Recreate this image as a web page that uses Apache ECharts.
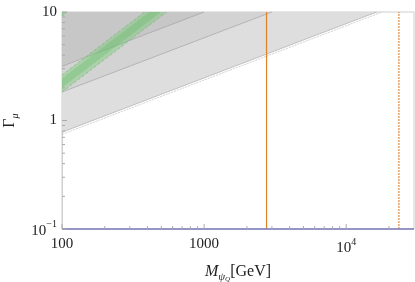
<!DOCTYPE html>
<html><head><meta charset="utf-8">
<script src="https://cdn.jsdelivr.net/npm/echarts@6/dist/echarts.min.js"></script>
<style>html,body{margin:0;padding:0;background:#fff}#c{width:415px;height:282px}</style>
</head><body><div id="c"></div>
<script>
// axis ranges and ticks
const xRange = [100, 30000];
const yRange = [0.1, 10];
const xMajor = [100, 1000, 10000];
const xMinor = [200,300,400,500,600,700,800,900,2000,3000,4000,5000,6000,7000,8000,9000,20000];
const yMajor = [0.1, 1, 10];
const yMinor = [0.2,0.3,0.4,0.5,0.6,0.7,0.8,0.9,2,3,4,5,6,7,8,9];
// excluded-region boundaries (M [GeV], Gamma)
const lightEdge = [[100, 0.78], [16400, 10]];
const lightEdge2 = [[100, 0.745], [17900, 10]];
const midEdge = [[100, 1.83], [3000, 10]];
const darkEdge = [[100, 3.16], [1000, 10]];
// green band edges
const gOuterUp = [[100, 2.62], [380, 10]];
const gOuterLo = [[100, 1.83], [546, 10]];
const gInnerUp = [[100, 2.42], [413, 10]];
const gInnerLo = [[100, 2.02], [495, 10]];
const g2Lo = [[100, 9.2], [109, 10]];
// vertical / horizontal limits
const orangeSolidM = 2750;
const orangeDashedM = 23500;
const purpleGamma = 0.1;

const SERIF = '"Liberation Serif","DejaVu Serif",serif';

function poly(points, fill, z) {
  return {
    type: 'custom', coordinateSystem: 'cartesian2d', silent: true, clip: true, z: z,
    data: points,
    renderItem: function (params, api) {
      if (params.dataIndex !== 0) return null;
      return { type: 'polygon', shape: { points: points.map(p => api.coord(p)) }, style: { fill: fill } };
    }
  };
}
function line(data, color, width, type, z) {
  return { type: 'line', data: data, symbol: 'none', silent: true, clip: true, z: z,
    lineStyle: { color: color, width: width, type: type || 'solid' } };
}
function aboveRegion(edge) { return edge.concat([[xRange[0], yRange[1]]]); }
function band(up, lo) { return up.concat(lo.slice().reverse()); }

function ticksX(vals, len) {
  return { type: 'custom', coordinateSystem: 'cartesian2d', silent: true, z: 20,
    data: vals.map(v => [v, yRange[0]]),
    renderItem: function (p, api) {
      const c = api.coord([api.value(0), yRange[0]]);
      return { type: 'line', shape: { x1: c[0], y1: c[1], x2: c[0], y2: c[1] - len }, style: { stroke: '#aaaaaa', lineWidth: 1 } };
    } };
}
function ticksY(vals, len) {
  return { type: 'custom', coordinateSystem: 'cartesian2d', silent: true, z: 20,
    data: vals.map(v => [xRange[0], v]),
    renderItem: function (p, api) {
      const c = api.coord([xRange[0], api.value(1)]);
      return { type: 'line', shape: { x1: c[0], y1: c[1], x2: c[0] + len, y2: c[1] }, style: { stroke: '#aaaaaa', lineWidth: 1 } };
    } };
}

function isPow10(v) { const l = Math.log10(v); return Math.abs(l - Math.round(l)) < 1e-6; }
function fmtX(v) {
  if (!isPow10(v)) return '';
  const e = Math.round(Math.log10(v));
  if (e <= 3) return String(Math.round(v));
  return '{b|10}{s|' + e + '}';
}
function fmtY(v) {
  if (!isPow10(v)) return '';
  const e = Math.round(Math.log10(v));
  if (e === 0) return '1';
  if (e === 1) return '10';
  return '{b|10}{s|\u2212' + Math.abs(e) + '}';
}
const labelRich = {
  b: { fontFamily: SERIF, fontSize: 15, color: '#222', lineHeight: 19, verticalAlign: 'bottom' },
  s: { fontFamily: SERIF, fontSize: 10, color: '#222', lineHeight: 19, verticalAlign: 'top' }
};

const chart = echarts.init(document.getElementById('c'), null, { renderer: 'canvas' });
chart.setOption({
  animation: false,
  backgroundColor: '#fff',
  grid: { left: 62, right: 1, top: 12, bottom: 53, outerBoundsMode: 'none', containLabel: false,
    show: true, borderColor: '#cfcfcf', borderWidth: 1, backgroundColor: 'transparent' },
  xAxis: {
    type: 'log', logBase: 10, min: xRange[0], max: xRange[1],
    axisLine: { show: false }, axisTick: { show: false }, splitLine: { show: false },
    axisLabel: { formatter: fmtX, margin: 8, fontFamily: SERIF, fontSize: 15, color: '#222', rich: labelRich, showMaxLabel: false },
    name: '{i|M}{s|\u03c8}{q|Q}{n|[GeV]}', nameLocation: 'middle', nameGap: 32,
    nameTextStyle: { rich: {
      i: { fontFamily: SERIF, fontStyle: 'italic', fontSize: 16, color: '#222', lineHeight: 22, verticalAlign: 'middle' },
      s: { fontFamily: SERIF, fontStyle: 'italic', fontSize: 11, color: '#222', lineHeight: 14, verticalAlign: 'bottom' },
      q: { fontFamily: SERIF, fontStyle: 'italic', fontSize: 7, color: '#222', lineHeight: 10, verticalAlign: 'bottom' },
      n: { fontFamily: SERIF, fontSize: 16, color: '#222', lineHeight: 22, verticalAlign: 'middle' }
    } }
  },
  yAxis: {
    type: 'log', logBase: 10, min: yRange[0], max: yRange[1],
    axisLine: { show: true, lineStyle: { color: '#cfcfcf', width: 1 } }, axisTick: { show: false }, splitLine: { show: false },
    axisLabel: { formatter: fmtY, margin: 5, fontFamily: SERIF, fontSize: 15, color: '#222', rich: labelRich },
    name: '{g|\u0393}{m|\u03bc}', nameLocation: 'middle', nameGap: 42, nameRotate: 90,
    nameTextStyle: { rich: {
      g: { fontFamily: SERIF, fontSize: 16, color: '#222', lineHeight: 20, verticalAlign: 'middle' },
      m: { fontFamily: SERIF, fontStyle: 'italic', fontSize: 10, color: '#222', lineHeight: 14, verticalAlign: 'bottom' }
    } }
  },
  series: [
    poly(aboveRegion(lightEdge), '#dedede', 1),
    poly(aboveRegion(midEdge), '#d3d3d3', 2),
    poly(aboveRegion(darkEdge), '#c7c7c7', 3),
    line(lightEdge, '#b4b4b4', 0.8, 'solid', 4),
    line(lightEdge2, '#c4c4c4', 0.8, [2, 1], 4),
    line(midEdge, '#ababab', 0.8, 'solid', 4),
    line(darkEdge, '#a8a8a8', 0.8, 'solid', 4),
    poly(band(gOuterUp, gOuterLo), 'rgba(100,200,100,0.35)', 5),
    poly(band(gInnerUp, gInnerLo), 'rgba(90,190,90,0.3)', 6),
    poly(aboveRegion(g2Lo), 'rgba(100,200,100,0.45)', 6),
    line(gOuterUp, '#77c277', 0.7, [3, 2], 7),
    line(gOuterLo, '#77c277', 0.7, [3, 2], 7),
    line(gInnerUp, '#88c888', 0.5, [3, 2], 7),
    line(gInnerLo, '#88c888', 0.5, [3, 2], 7),
    line(g2Lo, '#77c277', 0.7, [3, 2], 7),
    line([[orangeSolidM, yRange[0]], [orangeSolidM, yRange[1]]], '#e0822c', 1.2, 'solid', 8),
    line([[orangeDashedM, yRange[0]], [orangeDashedM, yRange[1]]], '#d8731c', 1, [2, 1], 8),
    Object.assign(line([[xRange[0], purpleGamma], [xRange[1], purpleGamma]], '#7b7bbb', 1.6, 'solid', 9), { clip: false }),
    ticksX(xMajor, 5), ticksX(xMinor, 3),
    ticksY(yMajor, 5), ticksY(yMinor, 3)
  ]
});
</script></body></html>
